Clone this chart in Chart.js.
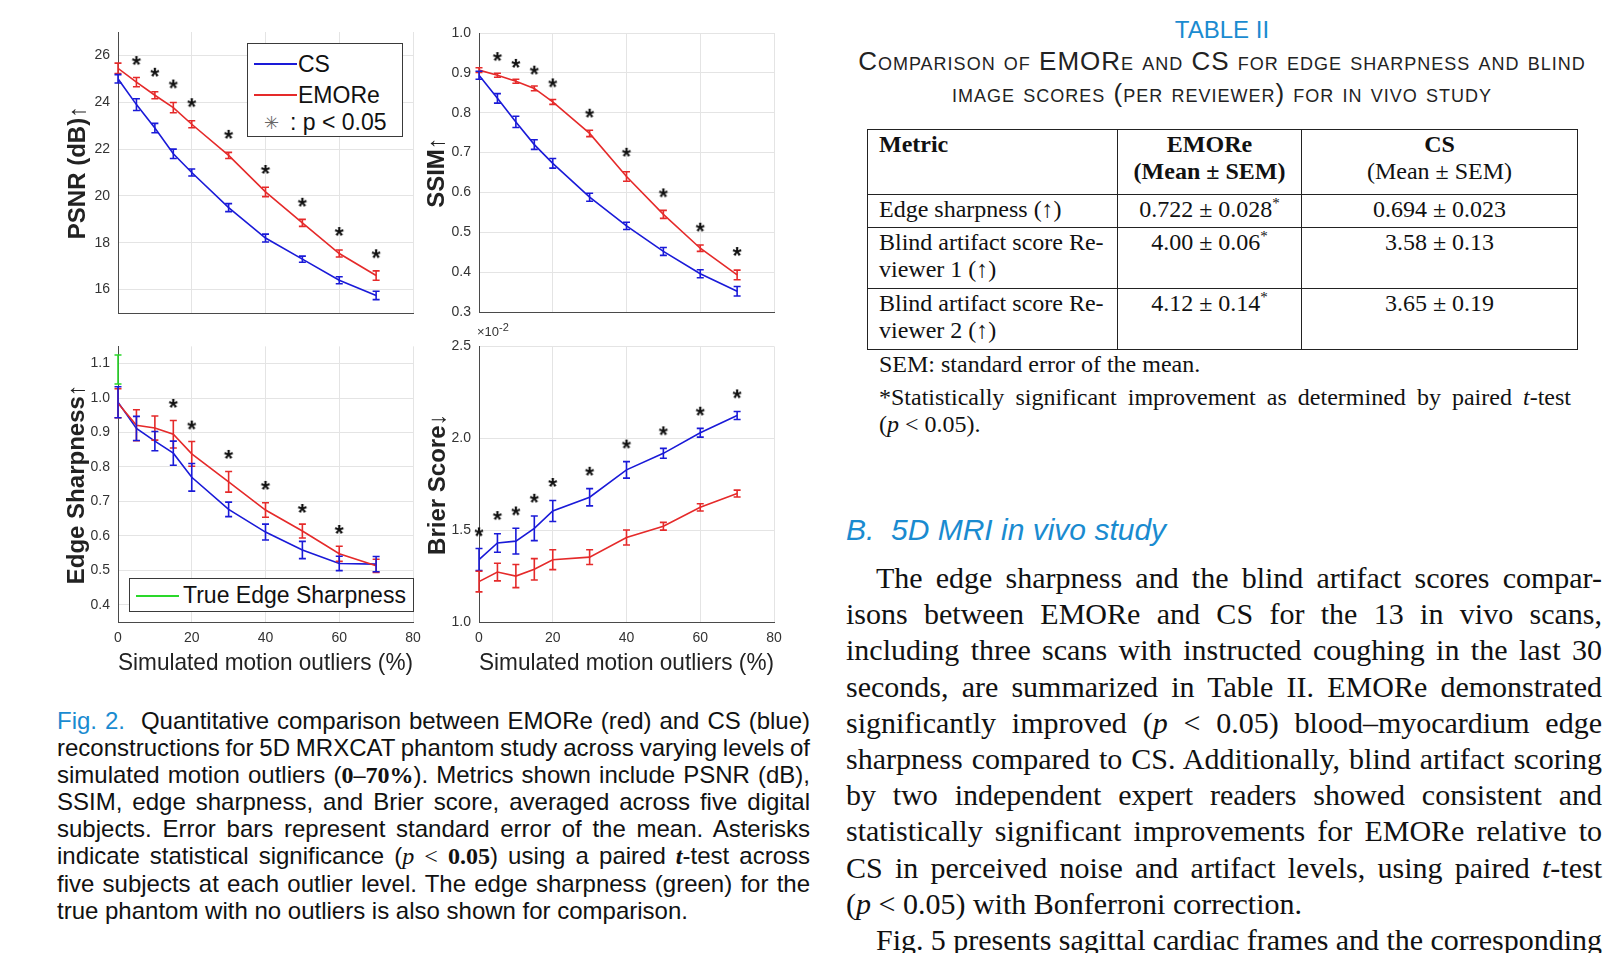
<!DOCTYPE html>
<html>
<head>
<meta charset="utf-8">
<script src="https://cdn.jsdelivr.net/npm/chart.js@4.4.1/dist/chart.umd.min.js"></script>
<style>
body { margin: 0; background: #fff; }
#page { position: relative; width: 1624px; height: 953px; overflow: hidden; font-family: "Liberation Sans", Arial, sans-serif; color: #111; }
.panel { position: absolute; }
.legend { position: absolute; background: #fff; border: 1px solid #3a3a3a; font-size: 23px; color: #111; }
.legend .it { position: absolute; height: 28px; line-height: 28px; white-space: nowrap; }
.legend .ln { position: absolute; height: 1.6px; width: 43px; }
.m { font-family: "Liberation Serif", serif; }
sup { line-height: 0; }
.cap { position: absolute; left: 57px; top: 707px; width: 753px; font-size: 24px; line-height: 27.1px; color: #111; }
.cap > div { height: 27.1px; }
.j { text-align: justify; text-align-last: justify; word-spacing: -2px; }
.para { position: absolute; left: 846px; top: 560px; width: 756px; font-family: "Liberation Serif", serif; font-size: 30px; line-height: 36.2px; color: #111; }
.para > div { height: 36.2px; }
.para .j { word-spacing: -3px; }
.ind { text-indent: 30px; }
.blue { color: #1a8bd0; }
.tcap { position: absolute; left: 842px; width: 760px; text-align: center; font-size: 26px; letter-spacing: 1px; color: #222; font-variant: small-caps; }
#tbl { position: absolute; left: 867px; top: 129px; border-collapse: collapse; table-layout: fixed; font-family: "Liberation Serif", serif; font-size: 24px; line-height: 27px; color: #111; }
#tbl td { border: 1.5px solid #222; vertical-align: top; padding: 1px 0 0 0; text-align: center; }
#tbl td.c1 { text-align: left; padding-left: 11px; }
.note { position: absolute; left: 879px; width: 692px; font-family: "Liberation Serif", serif; font-size: 24px; line-height: 27px; color: #111; }
</style>
</head>
<body>
<div id="page">
  <div class="panel" style="left:40px;top:10px;"><canvas id="cPsnr" width="390" height="320"></canvas></div>
  <div class="panel" style="left:400px;top:10px;"><canvas id="cSsim" width="390" height="320"></canvas></div>
  <div class="panel" style="left:40px;top:330px;"><canvas id="cEdge" width="390" height="370"></canvas></div>
  <div class="panel" style="left:400px;top:330px;"><canvas id="cBrier" width="390" height="370"></canvas></div>

  <div class="legend" style="left:247px;top:43px;width:154px;height:92px;">
    <div class="ln" style="left:6px;top:19px;background:#1a1ad8;"></div>
    <div class="it" style="left:50px;top:6px;">CS</div>
    <div class="ln" style="left:6px;top:50px;background:#e52a2a;"></div>
    <div class="it" style="left:50px;top:37px;">EMORe</div>
    <div class="it" style="left:16px;top:65px;font-family:'DejaVu Sans';font-size:18px;color:#666;">✳</div>
    <div class="it" style="left:42px;top:64px;">: p &lt; 0.05</div>
  </div>
  <div class="legend" style="left:129px;top:578px;width:283px;height:32px;">
    <div class="ln" style="left:6px;top:16px;background:#2ad82a;"></div>
    <div class="it" style="left:53px;top:2px;">True Edge Sharpness</div>
  </div>
  <div style="position:absolute;left:477px;top:324px;font-size:13px;color:#333;">×10<sup style="font-size:11px;">-2</sup></div>

  <div class="cap">
    <div class="j"><span class="blue">Fig. 2.</span><span style="display:inline-block;width:16px;"></span>Quantitative comparison between EMORe (red) and CS (blue)</div>
    <div class="j">reconstructions for 5D MRXCAT phantom study across varying levels of</div>
    <div class="j">simulated motion outliers (<b class="m">0–70%</b>). Metrics shown include PSNR (dB),</div>
    <div class="j">SSIM, edge sharpness, and Brier score, averaged across five digital</div>
    <div class="j">subjects. Error bars represent standard error of the mean. Asterisks</div>
    <div class="j">indicate statistical significance (<i class="m">p</i> <span class="m">&lt;</span> <b class="m">0.05</b>) using a paired <b class="m"><i>t</i></b>-test across</div>
    <div class="j">five subjects at each outlier level. The edge sharpness (green) for the</div>
    <div>true phantom with no outliers is also shown for comparison.</div>
  </div>

  <div class="tcap" style="top:16px;font-variant:normal;letter-spacing:0;font-size:24px;color:#1a8bd0;">TABLE II</div>
  <div class="tcap" style="top:46px;">Comparison of EMORe and CS for edge sharpness and blind</div>
  <div class="tcap" style="top:78px;">image scores (per reviewer) for in vivo study</div>

  <table id="tbl">
    <colgroup><col style="width:250px"><col style="width:184px"><col style="width:276px"></colgroup>
    <tr style="height:65px"><td class="c1"><b>Metric</b></td><td><b>EMORe<br>(Mean ± SEM)</b></td><td><b>CS</b><br>(Mean ± SEM)</td></tr>
    <tr style="height:33px"><td class="c1">Edge sharpness (↑)</td><td>0.722 ± 0.028<sup style="font-size:15px">*</sup></td><td>0.694 ± 0.023</td></tr>
    <tr style="height:61px"><td class="c1">Blind artifact score Re-<br>viewer 1 (↑)</td><td>4.00 ± 0.06<sup style="font-size:15px">*</sup></td><td>3.58 ± 0.13</td></tr>
    <tr style="height:61px"><td class="c1">Blind artifact score Re-<br>viewer 2 (↑)</td><td>4.12 ± 0.14<sup style="font-size:15px">*</sup></td><td>3.65 ± 0.19</td></tr>
  </table>
  <div class="note" style="top:351px;">SEM: standard error of the mean.</div>
  <div class="note" style="top:384px;">
    <div class="j">*Statistically significant improvement as determined by paired <i>t</i>-test</div>
    <div>(<i>p</i> &lt; 0.05).</div>
  </div>

  <div class="blue" style="position:absolute;left:846px;top:513px;font-size:30px;font-style:italic;">B.&nbsp; 5D MRI in vivo study</div>
  <div class="para">
    <div class="j ind">The edge sharpness and the blind artifact scores compar-</div>
    <div class="j">isons between EMORe and CS for the 13 in vivo scans,</div>
    <div class="j">including three scans with instructed coughing in the last 30</div>
    <div class="j">seconds, are summarized in Table II. EMORe demonstrated</div>
    <div class="j">significantly improved (<i>p</i> &lt; 0.05) blood–myocardium edge</div>
    <div class="j">sharpness compared to CS. Additionally, blind artifact scoring</div>
    <div class="j">by two independent expert readers showed consistent and</div>
    <div class="j">statistically significant improvements for EMORe relative to</div>
    <div class="j">CS in perceived noise and artifact levels, using paired <i>t</i>-test</div>
    <div>(<i>p</i> &lt; 0.05) with Bonferroni correction.</div>
    <div class="j ind">Fig. 5 presents sagittal cardiac frames and the corresponding</div>
  </div>
</div>

<script>
// simulated motion outliers (%)
const outlierPct = [0, 5, 10, 15, 20, 30, 40, 50, 60, 70];
const xTicks = [0, 20, 40, 60, 80];

// PSNR (dB)
const psnrCS = [25.0, 23.9, 22.9, 21.8, 21.0, 19.5, 18.2, 17.3, 16.4, 15.75];
const psnrCSErr = [0.18, 0.25, 0.2, 0.2, 0.15, 0.17, 0.17, 0.13, 0.15, 0.18];
const psnrEM = [25.45, 24.86, 24.3, 23.77, 23.06, 21.73, 20.17, 18.85, 17.54, 16.6];
const psnrEMErr = [0.22, 0.2, 0.15, 0.22, 0.15, 0.13, 0.2, 0.15, 0.15, 0.2];
const psnrStarX = [5, 10, 15, 20, 30, 40, 50, 60, 70];
const psnrStarY = [25.8, 25.3, 24.8, 24.0, 22.65, 21.15, 19.75, 18.5, 17.55];
const psnrTicks = [16, 18, 20, 22, 24, 26];

// SSIM
const ssimCS = [0.894, 0.836, 0.777, 0.72, 0.673, 0.588, 0.516, 0.452, 0.396, 0.352];
const ssimCSErr = [0.01, 0.012, 0.014, 0.012, 0.012, 0.01, 0.009, 0.01, 0.01, 0.012];
const ssimEM = [0.907, 0.894, 0.879, 0.861, 0.827, 0.748, 0.64, 0.545, 0.46, 0.393];
const ssimEMErr = [0.006, 0.005, 0.005, 0.006, 0.006, 0.008, 0.012, 0.01, 0.008, 0.012];
const ssimStarX = [5, 10, 15, 20, 30, 40, 50, 60, 70];
const ssimStarY = [0.942, 0.925, 0.908, 0.876, 0.80, 0.702, 0.60, 0.514, 0.453];
const ssimTicks = [0.3, 0.4, 0.5, 0.6, 0.7, 0.8, 0.9, 1.0];

// Edge sharpness
const edgeCS = [0.988, 0.912, 0.875, 0.84, 0.77, 0.677, 0.611, 0.559, 0.52, 0.518];
const edgeCSErr = [0.045, 0.035, 0.028, 0.035, 0.04, 0.021, 0.023, 0.025, 0.021, 0.022];
const edgeEM = [0.985, 0.921, 0.913, 0.895, 0.838, 0.757, 0.675, 0.614, 0.548, 0.513];
const edgeEMErr = [0.042, 0.045, 0.035, 0.04, 0.036, 0.03, 0.021, 0.02, 0.022, 0.019];
const edgeTrue = 1.083;
const edgeTrueErr = 0.042;
const edgeStarX = [15, 20, 30, 40, 50, 60];
const edgeStarY = [0.986, 0.923, 0.838, 0.748, 0.681, 0.62];
const edgeTicks = [0.4, 0.5, 0.6, 0.7, 0.8, 0.9, 1.0, 1.1];

// Brier score (x 10^-2)
const brierCS = [1.34, 1.43, 1.44, 1.51, 1.604, 1.679, 1.828, 1.918, 2.03, 2.124];
const brierCSErr = [0.06, 0.05, 0.07, 0.067, 0.057, 0.047, 0.045, 0.027, 0.024, 0.022];
const brierEM = [1.22, 1.272, 1.25, 1.287, 1.339, 1.353, 1.46, 1.521, 1.624, 1.699];
const brierEMErr = [0.056, 0.048, 0.063, 0.058, 0.054, 0.04, 0.041, 0.021, 0.02, 0.019];
const brierStarX = [0, 5, 10, 15, 20, 30, 40, 50, 60, 70];
const brierStarY = [1.493, 1.582, 1.607, 1.676, 1.762, 1.823, 1.971, 2.043, 2.15, 2.244];
const brierTicks = [1.0, 1.5, 2.0, 2.5];

const BLUE = '#1a1ad8';
const RED = '#e52a2a';
const GREEN = '#2ad82a';
const FONT = '"Liberation Sans", Arial, sans-serif';

const pts = (xs, ys) => xs.map((x, i) => ({ x: x, y: ys[i] }));

// black asterisk used as marker
function makeStar() {
    const c = document.createElement('canvas');
    c.width = 20; c.height = 20;
    const g = c.getContext('2d');
    g.font = 'bold 23px ' + FONT;
    g.fillStyle = '#111';
    g.textAlign = 'center';
    const m = g.measureText('*');
    g.fillText('*', 10, 10 + (m.actualBoundingBoxAscent - m.actualBoundingBoxDescent) / 2);
    return c;
}
const starImg = makeStar();

// vertical error bars with caps, drawn through the scales
const errorBars = {
    id: 'errorBars',
    afterDatasetsDraw(chart) {
        const ctx = chart.ctx;
        const xs = chart.scales.x, ys = chart.scales.y;
        chart.data.datasets.forEach((ds) => {
            if (!ds.errors) return;
            ctx.save();
            ctx.strokeStyle = ds.borderColor;
            ctx.lineWidth = 1.6;
            ds.data.forEach((p, j) => {
                const e = ds.errors[j];
                const px = xs.getPixelForValue(p.x);
                const t = ys.getPixelForValue(p.y + e);
                const b = ys.getPixelForValue(p.y - e);
                ctx.beginPath();
                ctx.moveTo(px, t); ctx.lineTo(px, b);
                ctx.moveTo(px - 3.5, t); ctx.lineTo(px + 3.5, t);
                ctx.moveTo(px - 3.5, b); ctx.lineTo(px + 3.5, b);
                ctx.stroke();
            });
            ctx.restore();
        });
    }
};

function series(label, ys, errs, color) {
    return { label: label, data: pts(outlierPct, ys), errors: errs, borderColor: color,
             borderWidth: 1.6, pointRadius: 0, fill: false, tension: 0 };
}
function stars(xs, ys) {
    return { label: 'p<0.05', data: pts(xs, ys), showLine: false, pointStyle: starImg,
             pointRadius: 6, borderWidth: 0, clip: false };
}

function panel(id, o) {
    return new Chart(document.getElementById(id), {
        type: 'line',
        data: { datasets: o.datasets },
        options: {
            responsive: false,
            animation: false,
            layout: { padding: { left: 0, top: o.padTop, right: o.padRight, bottom: 0 } },
            plugins: { legend: { display: false }, tooltip: { enabled: false } },
            scales: {
                x: {
                    type: 'linear', min: 0, max: 80,
                    afterBuildTicks: s => { s.ticks = xTicks.map(v => ({ value: v })); },
                    afterFit: s => { s.height = o.xh; },
                    grid: { color: '#e4e4e4', drawTicks: false },
                    border: { display: true, color: '#4a4a4a', width: 1 },
                    ticks: { display: o.xLabels, padding: 8, color: '#333', font: { family: FONT, size: 14 } },
                    title: { display: o.xLabels, text: 'Simulated motion outliers (%)', color: '#222',
                             font: { family: FONT, size: 24 }, padding: { top: 0, bottom: 22 } }
                },
                y: {
                    type: 'linear', min: o.min, max: o.max,
                    afterBuildTicks: s => { s.ticks = o.ticks.map(v => ({ value: v })); },
                    afterFit: s => { s.width = o.yw; },
                    grid: { color: '#e4e4e4', drawTicks: false },
                    border: { display: true, color: '#4a4a4a', width: 1 },
                    ticks: { padding: 8, color: '#333', font: { family: FONT, size: 14 },
                             callback: v => o.dec ? v.toFixed(o.dec) : String(v) },
                    title: { display: true, text: o.title, color: '#222',
                             font: { family: FONT, size: 24, weight: 'bold' }, padding: { top: o.titlePad, bottom: 0 } }
                }
            }
        },
        plugins: [errorBars]
    });
}

panel('cPsnr', {
    datasets: [stars(psnrStarX, psnrStarY), series('EMORe', psnrEM, psnrEMErr, RED), series('CS', psnrCS, psnrCSErr, BLUE)],
    min: 15, max: 27, ticks: psnrTicks, dec: 0, title: 'PSNR (dB)↑',
    yw: 78, padTop: 22, padRight: 17, xh: 17, xLabels: false, titlePad: 24
});
panel('cSsim', {
    datasets: [stars(ssimStarX, ssimStarY), series('EMORe', ssimEM, ssimEMErr, RED), series('CS', ssimCS, ssimCSErr, BLUE)],
    min: 0.3, max: 1.0, ticks: ssimTicks, dec: 1, title: 'SSIM↑',
    yw: 79, padTop: 23, padRight: 16, xh: 18, xLabels: false, titlePad: 23
});
panel('cEdge', {
    datasets: [stars(edgeStarX, edgeStarY), series('EMORe', edgeEM, edgeEMErr, RED), series('CS', edgeCS, edgeCSErr, BLUE),
               { label: 'True Edge Sharpness', data: [{ x: 0, y: edgeTrue }], errors: [edgeTrueErr], borderColor: GREEN,
                 borderWidth: 1.6, pointRadius: 0, clip: false }],
    min: 0.35, max: 1.15, ticks: edgeTicks, dec: 1, title: 'Edge Sharpness↑',
    yw: 78, padTop: 13, padRight: 17, xh: 78, xLabels: true, titlePad: 23
});
panel('cBrier', {
    datasets: [stars(brierStarX, brierStarY), series('CS', brierCS, brierCSErr, BLUE), series('EMORe', brierEM, brierEMErr, RED)],
    min: 1.0, max: 2.5, ticks: brierTicks, dec: 1, title: 'Brier Score↓',
    yw: 79, padTop: 13, padRight: 16, xh: 78, xLabels: true, titlePad: 24
});
</script>
</body>
</html>
